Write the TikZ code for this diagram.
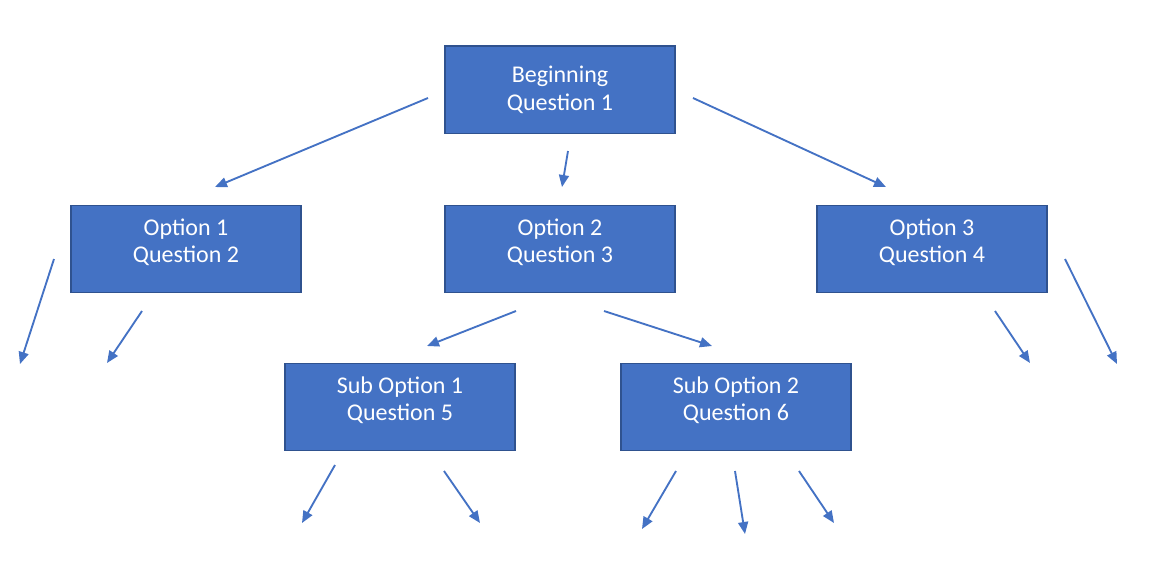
\documentclass[tikz,border=0pt]{standalone}
\usepackage{fontspec}
\setmainfont{Carlito}
\usetikzlibrary{arrows.meta}
\definecolor{boxblue}{HTML}{4472C4}
\definecolor{boxedge}{HTML}{2F528F}
\tikzset{
	qbox/.style={draw=boxedge, line width=1.2pt, fill=boxblue, text=white, minimum width=172.5pt, minimum height=65.5pt, align=center, font=\fontsize{18}{20.3}\selectfont},
	lowbox/.style={qbox, text depth=13pt},
	link/.style={draw=boxblue, line width=1.4pt, -{Triangle[length=9pt,width=7.5pt]}}
}
\begin{document}
\begin{tikzpicture}[x=0.75pt, y=-0.75pt]
		\useasboundingbox (0,0) rectangle (1168,572);
		\node[qbox, yshift=-1pt] (1) at (560,88.5) {Beginning\\Question 1};
		\node[lowbox] (2) at (186,249) {Option 1\\Question 2};
		\node[lowbox] (3) at (560,249) {Option 2\\Question 3};
		\node[lowbox] (4) at (932,249) {Option 3\\Question 4};
		\node[lowbox] (5) at (400,407) {Sub Option 1\\Question 5};
		\node[lowbox] (6) at (736,407) {Sub Option 2\\Question 6};
		
		% loose arrow ends
		\coordinate (a1) at (428,98);   \coordinate (b1) at (215,187);
		\coordinate (a2) at (568,151);  \coordinate (b2) at (562,187);
		\coordinate (a3) at (693,98);   \coordinate (b3) at (886,187);
		\coordinate (a4) at (54,259);   \coordinate (b4) at (20,364);
		\coordinate (a5) at (142,311);  \coordinate (b5) at (107,363);
		\coordinate (a6) at (516,311);  \coordinate (b6) at (427,346);
		\coordinate (a7) at (604,311);  \coordinate (b7) at (712,346);
		\coordinate (a8) at (995,311);  \coordinate (b8) at (1030,363);
		\coordinate (a9) at (1065,259); \coordinate (b9) at (1117,364);
		\coordinate (a10) at (335,465); \coordinate (b10) at (302,523);
		\coordinate (a11) at (444,471); \coordinate (b11) at (480,523);
		\coordinate (a12) at (676,471); \coordinate (b12) at (642,529);
		\coordinate (a13) at (735,471); \coordinate (b13) at (745,534);
		\coordinate (a14) at (799,471); \coordinate (b14) at (834,523);
		
		\foreach \i in {1,...,14}
			\draw[link] (a\i) to (b\i);
		
	\end{tikzpicture}
\end{document}
